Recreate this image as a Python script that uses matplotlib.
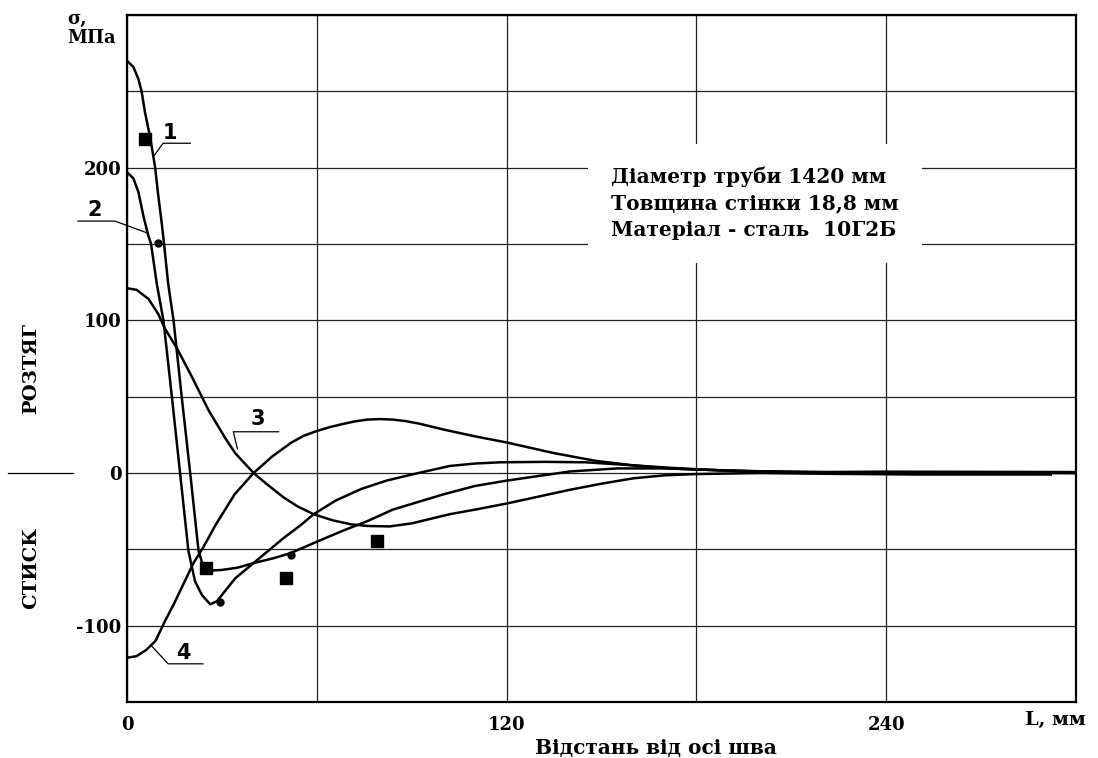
import matplotlib
matplotlib.use("Agg")
import matplotlib.pyplot as plt
from matplotlib.lines import Line2D
import matplotlib.transforms as mtransforms

# curve data (L in mm, sigma in MPa)
x1 = [0, 2, 3.6, 4.6, 5.7, 7.3, 8.9, 9.8, 11, 11.7, 13, 14.7, 17.3, 20, 22.6, 24.2, 25.5, 30, 35, 40, 46, 51.7, 60, 68, 76, 84, 92, 100, 110, 120, 130, 140, 155, 170, 185, 200, 230, 260, 300]
y1 = [270, 266, 258, 250, 236, 220, 200, 183, 163, 150, 124, 100, 49.5, -0.7, -51, -62, -64, -63.5, -62, -59, -56, -52.5, -45, -38, -31.5, -24, -19, -14, -8.5, -5, -2, 1, 3, 3, 2, 1, 0.3, 0, 0]

x2 = [0, 2, 3.6, 5.2, 6.8, 7.6, 9.4, 11.5, 14.2, 16.8, 19.4, 21.5, 23.7, 26.3, 28.4, 34.2, 40, 49.5, 55, 59, 66, 74, 82, 90, 102, 110, 118, 132, 145, 160, 171, 190, 220, 260, 300]
y2 = [197, 193, 184, 168, 155, 150, 124, 100, 49.5, -0.7, -51, -71, -80, -86, -84, -69, -59, -42.6, -34, -27, -18, -10.5, -5, -1, 4.6, 6.2, 7, 7.3, 7, 5, 3, 1.5, 0.5, 0.8, 0.6]

x3 = [0, 3, 6.8, 9.9, 12, 15.7, 20.5, 25.8, 31, 34.2, 40, 44, 49.5, 54, 59, 65, 70.7, 76, 83, 90, 96, 102, 110, 120, 130, 140, 150, 160, 170, 180, 200, 220, 250, 292]
y3 = [121, 120, 114, 104, 94.5, 82, 63, 41, 23, 13, 0, -7, -16, -22, -27, -31, -33.6, -34.7, -35, -33, -30, -27, -24, -20, -15.5, -11, -7, -3.5, -1.5, -0.7, 0, -0.5, -1, -1]

x4 = [0, 3, 6, 9, 12, 15, 18, 21, 24, 28, 34, 40, 46, 52, 56, 60, 64, 68, 72, 76, 80, 84, 88, 92, 100, 110, 120, 135, 148, 160, 175, 190, 210, 240, 270, 300]
y4 = [-121, -120, -116, -110, -97, -85, -72, -59, -49, -34, -14, 0, 11, 20, 24.5, 27.5, 30, 32, 33.8, 35, 35.3, 35, 34, 32.5, 28.5, 24, 20, 13, 8, 5, 3, 1.5, 0.5, 0.8, 0.3, 0]

# experimental points
sq_x = [5.6, 24.9, 50.3, 79]
sq_y = [218.5, -62.4, -69, -44.6]
dot_x = [9.9, 29.3, 51.7]
dot_y = [150.8, -84.5, -53.4]

xticks = [0, 60, 120, 180, 240, 300]
xticklabels = ["0", "", "120", "", "240", ""]
yticks = [-150, -100, -50, 0, 50, 100, 150, 200, 250, 300]
yticklabels = ["", "-100", "", "0", "", "100", "", "200", "", ""]

info = "Діаметр труби 1420 мм\nТовщина стінки 18,8 мм\nМатеріал - сталь  10Г2Б"

plt.rcParams["font.family"] = ["DejaVu Serif"]
plt.rcParams["font.weight"] = "bold"

fig = plt.figure(figsize=(10.98, 7.58), dpi=100)
ax = fig.add_axes([0.1157, 0.0739, 0.8643, 0.9063])

ax.set_xlim(0, 300)
ax.set_ylim(-150, 300)
ax.set_xticks(xticks)
ax.set_xticklabels(xticklabels, fontsize=13, fontweight="bold")
ax.set_yticks(yticks)
ax.set_yticklabels(yticklabels, fontsize=13, fontweight="bold")
ax.tick_params(axis="both", length=0)
ax.tick_params(axis="x", pad=10)
ax.tick_params(axis="y", pad=4)
ax.grid(True, color="#222222", linewidth=0.9)
ax.set_axisbelow(True)
for s in ax.spines.values():
    s.set_linewidth(1.6)

for xs, ys in [(x1, y1), (x2, y2), (x3, y3), (x4, y4)]:
    ax.plot(xs, ys, color="black", linewidth=1.8, zorder=3)

ax.plot(sq_x, sq_y, "s", color="black", markersize=8, zorder=4)
ax.plot(dot_x, dot_y, "o", color="black", markersize=5, zorder=4)

# curve number labels with leader lines
ax.plot([8.6, 11.4, 20], [208, 216, 216], color="black", linewidth=0.9, zorder=3)
ax.text(13.6, 223, "1", fontsize=15, ha="center", va="center", family="DejaVu Sans", fontweight="bold")
ax.plot([-15.5, -3.8, 6.7], [165, 165, 157], color="black", linewidth=0.9, clip_on=False, zorder=3)
ax.text(-10.1, 172, "2", fontsize=15, ha="center", va="center", family="DejaVu Sans", fontweight="bold")
ax.plot([34.9, 33.6, 47.9], [15.8, 27, 27], color="black", linewidth=0.9, zorder=3)
ax.text(41.2, 35.5, "3", fontsize=15, ha="center", va="center", family="DejaVu Sans", fontweight="bold")
ax.plot([7.9, 13, 24], [-113.6, -125, -125], color="black", linewidth=0.9, zorder=3)
ax.text(17.7, -118, "4", fontsize=15, ha="center", va="center", family="DejaVu Sans", fontweight="bold")

ax.text(153, 176.6, info, fontsize=14.5, fontweight="bold", ha="left", va="center",
        linespacing=1.4, zorder=5,
        bbox=dict(boxstyle="square,pad=1.15", facecolor="white", edgecolor="none"))

fig.text(67 / 1098, 1 - 10 / 758, "σ,\nМПа", fontsize=13, fontweight="bold", ha="left", va="top", linespacing=1.05)
fig.text(1025 / 1098, 1 - 720 / 758, "L, мм", fontsize=14, fontweight="bold", ha="left", va="center")
fig.text(535 / 1098, 1 - 748 / 758, "Відстань від осі шва", fontsize=14.5, fontweight="bold", ha="left", va="center")
fig.text(31 / 1098, 1 - 369 / 758, "РОЗТЯГ", fontsize=14, fontweight="bold", rotation=90, ha="center", va="center")
fig.text(31 / 1098, 1 - 568 / 758, "СТИСК", fontsize=14, fontweight="bold", rotation=90, ha="center", va="center")

trans = mtransforms.blended_transform_factory(fig.transFigure, ax.transData)
fig.add_artist(Line2D([8 / 1098, 73 / 1098], [0, 0], transform=trans, color="black", linewidth=0.9))

fig.savefig("out.png", dpi=100)
